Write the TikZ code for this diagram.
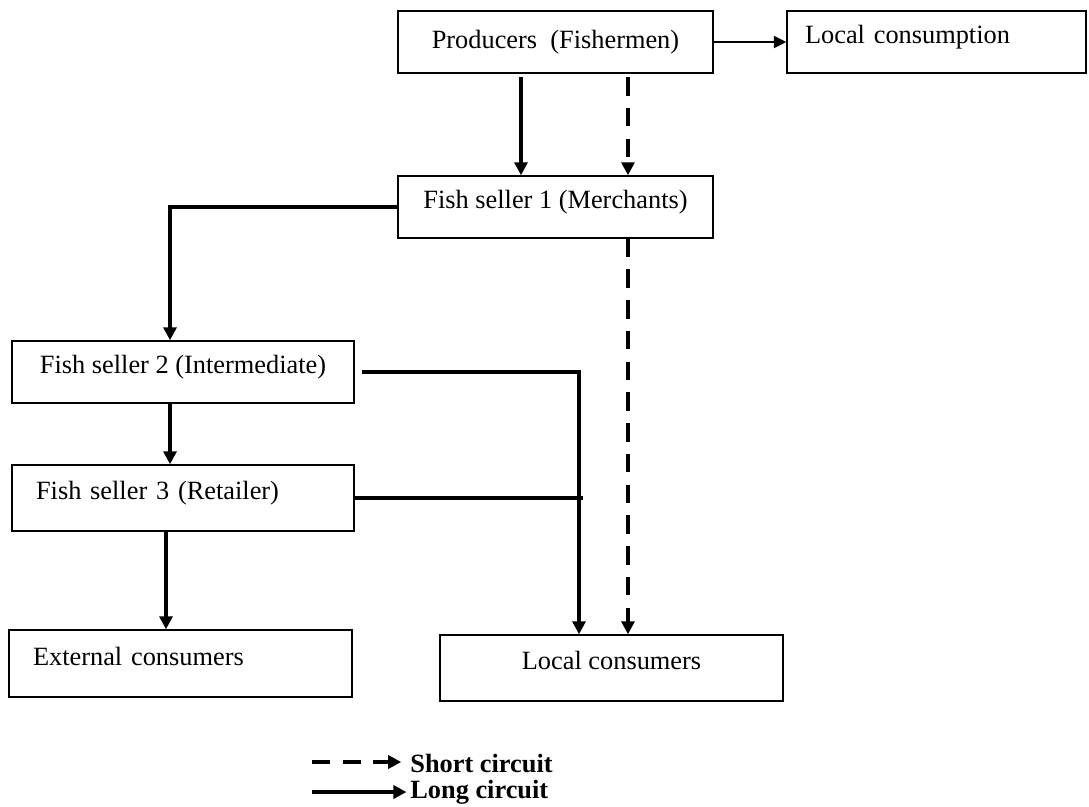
\documentclass[tikz,border=0pt]{standalone}
\usepackage{fontspec}
\setmainfont{Liberation Serif}
\usetikzlibrary{arrows.meta}

\tikzset{
	box/.style={draw, line width=0.85pt, inner sep=0pt, minimum height=1.24cm, font=\fontsize{15}{18}\selectfont},
	leftbox/.style={box, align=left, text width=#1},
	uptext/.style={text height=7pt, text depth=5pt},
	longarr/.style={line width=2.3pt, -{Triangle[length=7.4pt,width=7.4pt]}},
	longline/.style={line width=2.3pt},
	shortarr/.style={line width=2.3pt, dash pattern=on 10.5pt off 7pt, -{Triangle[length=7.4pt,width=7.4pt]}},
	thinarr/.style={line width=1.1pt, -{Triangle[length=7pt,width=6.8pt]}},
	legtext/.style={font=\fontsize{15}{18}\selectfont\bfseries, inner sep=0pt}
}

\begin{document}
\begin{tikzpicture}[x=0.02cm, y=-0.02cm]
		\useasboundingbox (0,0) rectangle (1089,806);

		\node[box, minimum width=6.3cm] (prod) at (555.5,42) {Producers\ \ (Fishermen)};
		\node[leftbox=5.26cm, inner xsep=0.36cm, uptext] (lcons) at (936.5,42) {Local consumption};
		\node[box, minimum width=6.3cm, uptext] (fs1) at (555.5,207) {Fish seller 1 (Merchants)};
		\node[box, minimum width=6.84cm, uptext] (fs2) at (183,372) {Fish seller 2 (Intermediate)};
		\node[leftbox=5.88cm, inner xsep=0.48cm, minimum height=1.32cm, uptext] (fs3) at (183,498) {Fish seller 3 (Retailer)};
		\node[leftbox=5.9cm, inner xsep=0.48cm, minimum height=1.34cm, uptext] (ext) at (180.5,663.5) {External consumers};
		\node[box, minimum width=6.86cm, minimum height=1.32cm, uptext] (loccons) at (611.5,668) {Local consumers};

		\draw[thinarr] (prod.east) -- (lcons.west);
		\draw[longarr, shorten <=2pt] ([xshift=-0.69cm]prod.south) -- ([xshift=-0.69cm]fs1.north);
		\draw[shortarr, shorten <=2pt] ([xshift=1.45cm]prod.south) -- ([xshift=1.45cm]fs1.north);

		\draw[longarr] (fs1.west) -| ([xshift=-0.26cm]fs2.north);
		\draw[longarr] ([xshift=-0.26cm]fs2.south) -- ([xshift=-0.26cm]fs3.north);
		\coordinate (f3out) at ([xshift=-0.34cm]fs3.south);
		\draw[longarr] (f3out) -- (f3out |- ext.north);

		\coordinate (jn) at ([xshift=-0.65cm]loccons.north);
		\draw[longarr] ([xshift=4pt]fs2.east) -| (jn);
		\draw[longline] (fs3.east) -- ([xshift=0.08cm]fs3.east -| jn);

		\coordinate (dn) at ([xshift=1.45cm]fs1.south);
		\draw[shortarr] (dn) -- (dn |- loccons.north);

		\node[legtext, anchor=west] (shortlbl) at (410,764) {Short circuit};
		\node[legtext, anchor=west] (longlbl) at (410,792) {Long circuit};
		\coordinate (shortstart) at (312,762);
		\coordinate (longstart) at (312,792);
		\draw[shortarr, shorten >=5pt] (shortstart) -- (shortstart -| shortlbl.west);
		\draw[longarr, shorten >=2pt] (longstart) -- (longstart -| longlbl.west);
	\end{tikzpicture}
\end{document}
